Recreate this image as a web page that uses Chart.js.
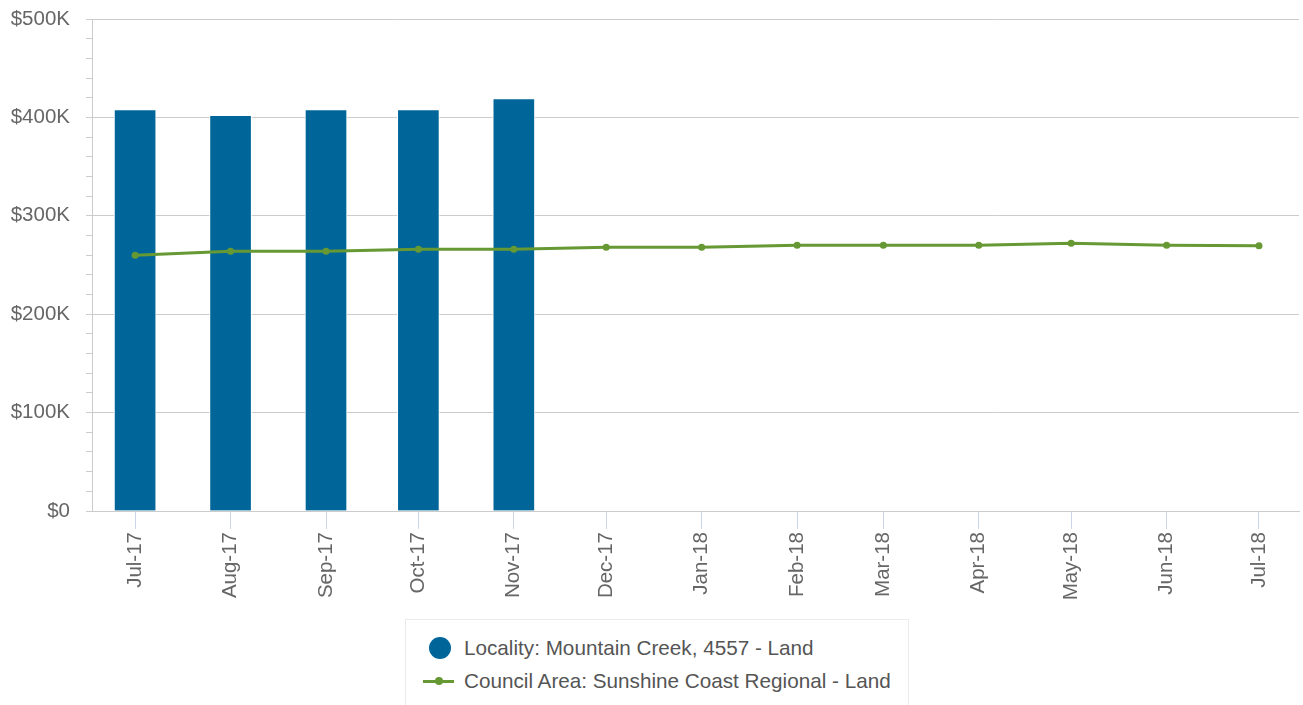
<!DOCTYPE html>
<html>
<head>
<meta charset="utf-8">
<script src="https://cdn.jsdelivr.net/npm/chart.js@4/dist/chart.umd.min.js"></script>
<style>
  html, body { margin: 0; padding: 0; background: #fff; }
  #wrap { position: relative; width: 1303px; height: 705px; overflow: hidden; }
  #c { position: absolute; left: 0; top: 0; }
  #legend { position: absolute; left: 405px; top: 619px; width: 504px; height: 95px;
    border: 1px solid #ebebeb; background: #fff; box-sizing: border-box;
    font-family: "Liberation Sans", Arial, sans-serif; font-size: 20.7px; color: #555; }
  .item { position: absolute; left: 0; height: 30px; line-height: 30px; white-space: nowrap; }
  .item span.t { position: absolute; left: 58px; top: 0; }
  .sym { position: absolute; }
</style>
</head>
<body>
<div id="wrap">
  <canvas id="c" width="1303" height="705"></canvas>
  <div id="legend">
    <div class="item" style="top:13px"><div class="sym" style="left:23px;top:4px;width:22px;height:22px;border-radius:50%;background:#006699"></div><span class="t" id="l1"></span></div>
    <div class="item" style="top:46px"><div class="sym" style="left:17px;top:13.5px;width:31px;height:3px;background:#669933"></div><div class="sym" style="left:29px;top:11px;width:8px;height:8px;border-radius:50%;background:#669933"></div><span class="t" id="l2"></span></div>
  </div>
</div>
<script>
const monthLabels = ["Jul-17","Aug-17","Sep-17","Oct-17","Nov-17","Dec-17","Jan-18","Feb-18","Mar-18","Apr-18","May-18","Jun-18","Jul-18"];
const monthDates = ["2017-07-01","2017-08-01","2017-09-01","2017-10-01","2017-11-01","2017-12-01","2018-01-01","2018-02-01","2018-03-01","2018-04-01","2018-05-01","2018-06-01","2018-07-01"];
const localityValues = [408000, 402000, 408000, 408000, 419000, null, null, null, null, null, null, null, null];
const councilValues = [260000, 264000, 264000, 266000, 266000, 268000, 268000, 270000, 270000, 270000, 272000, 270000, 269500];
const localityLabel = "Locality: Mountain Creek, 4557 - Land";
const councilLabel = "Council Area: Sunshine Coast Regional - Land";
const yTickLabels = {0: "$0", 100000: "$100K", 200000: "$200K", 300000: "$300K", 400000: "$400K", 500000: "$500K"};

const DAY = 86400000;
const t0 = Date.parse(monthDates[0]);
const xPos = monthDates.map(d => Math.round((Date.parse(d) - t0) / DAY));

document.getElementById('l1').textContent = localityLabel;
document.getElementById('l2').textContent = councilLabel;

const FONT = { family: '"Liberation Sans", Arial, sans-serif', size: 20.5 };

new Chart(document.getElementById('c'), {
  data: {
    datasets: [
      {
        type: 'line', label: councilLabel, order: 0,
        data: councilValues.map((v, i) => ({ x: xPos[i], y: v })),
        borderColor: '#669933', backgroundColor: '#669933', borderWidth: 3,
        pointRadius: 3.5, pointBorderWidth: 0, pointBackgroundColor: '#669933',
        tension: 0
      },
      {
        type: 'bar', label: localityLabel, order: 1,
        data: localityValues.map((v, i) => ({ x: xPos[i], y: v })).filter(p => p.y !== null),
        backgroundColor: '#006699', borderColor: '#ffffff', borderWidth: 1,
        barThickness: 42
      }
    ]
  },
  options: {
    responsive: false, animation: false, devicePixelRatio: 1,
    layout: { padding: { top: 19, right: 0, bottom: 0, left: 0 } },
    plugins: { legend: { display: false }, tooltip: { enabled: false } },
    scales: {
      x: {
        type: 'linear', min: -14, max: 378, offset: false,
        afterBuildTicks: s => { s.ticks = xPos.map(v => ({ value: v })); },
        afterFit: s => { s.height = 194; s.paddingLeft = 0; s.paddingRight = 0; },
        ticks: {
          autoSkip: false, maxRotation: 90, minRotation: 90, padding: 3,
          color: '#666', font: FONT,
          callback: v => { const i = xPos.indexOf(v); return i >= 0 ? monthLabels[i] : ''; }
        },
        grid: { offset: false, drawOnChartArea: false, drawTicks: true, tickLength: 18, tickColor: '#ccd6eb', lineWidth: 1 },
        border: { color: '#cccccc', width: 1 }
      },
      y: {
        min: 0, max: 500000,
        afterFit: s => { s.width = 92; s.paddingTop = 0; s.paddingBottom = 0; },
        ticks: {
          stepSize: 20000, autoSkip: false, padding: 16, color: '#666', font: FONT,
          callback: v => (yTickLabels[v] !== undefined ? yTickLabels[v] : '')
        },
        grid: {
          tickLength: 6, tickColor: '#cccccc',
          color: ctx => (ctx.tick && ctx.tick.value % 100000 === 0 ? '#cccccc' : 'rgba(0,0,0,0)'),
          lineWidth: 1
        },
        border: { color: '#cccccc', width: 1 }
      }
    }
  }
});
</script>
</body>
</html>
